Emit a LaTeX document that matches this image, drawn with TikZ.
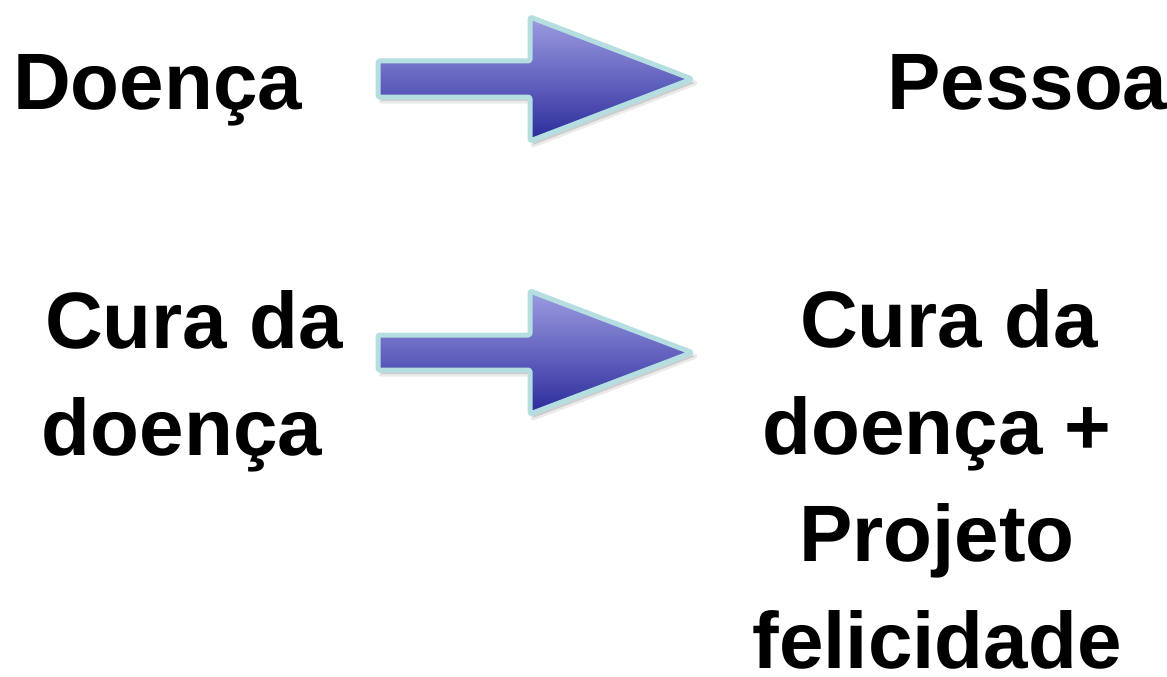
\documentclass[tikz,border=0pt]{standalone}
\usepackage{fontspec}
\setmainfont{Liberation Sans}
\tikzset{
  lbl/.style={inner sep=0pt, font=\fontsize{80}{107}\selectfont\bfseries, text=black},
  bigarrow/.style={top color=arrtop, bottom color=arrbot, middle color=arrmid, draw=arrborder, line width=5pt, line join=round, rounded corners=1.5pt},
  arrshadow/.style={fill=black, opacity=0.12, line width=5pt, draw=black, draw opacity=0.08, line join=round}
}
\definecolor{arrtop}{HTML}{9C9CE0}
\definecolor{arrmid}{HTML}{6464C0}
\definecolor{arrbot}{HTML}{2A2A9A}
\definecolor{arrborder}{HTML}{B4DEE0}
\begin{document}
\begin{tikzpicture}[x=1pt,y=-1pt]
\useasboundingbox (0,0) rectangle (1167,677);
% texts
\node[lbl, anchor=base west] (doenca) at (13,109) {Doença};
\node[lbl, anchor=base west] (pessoa) at (887,109) {Pessoa};
\node[lbl, anchor=base, align=center] (cura) at (182,455) {\hspace*{0.3em}Cura da\\doença};
\node[lbl, anchor=base, align=center] (curaproj) at (937,668) {\hspace*{0.3em}Cura da\\doença +\\Projeto\\felicidade};
% arrow 1
\coordinate (a1) at (378,79);
\path[arrshadow] ([shift={(3,4)}]a1) ++(0,-18) -- ++(152,0) -- ++(0,-44) -- ++(162,62) -- ++(-162,62) -- ++(0,-44) -- ++(-152,0) -- cycle;
\path[bigarrow] (a1) ++(0,-18) -- ++(152,0) -- ++(0,-44) -- ++(162,62) -- ++(-162,62) -- ++(0,-44) -- ++(-152,0) -- cycle;
% arrow 2
\coordinate (a2) at (378,352.5);
\path[arrshadow] ([shift={(3,4)}]a2) ++(0,-17.5) -- ++(152,0) -- ++(0,-44) -- ++(162,61.5) -- ++(-162,61.5) -- ++(0,-44) -- ++(-152,0) -- cycle;
\path[bigarrow] (a2) ++(0,-17.5) -- ++(152,0) -- ++(0,-44) -- ++(162,61.5) -- ++(-162,61.5) -- ++(0,-44) -- ++(-152,0) -- cycle;
\end{tikzpicture}
\end{document}
